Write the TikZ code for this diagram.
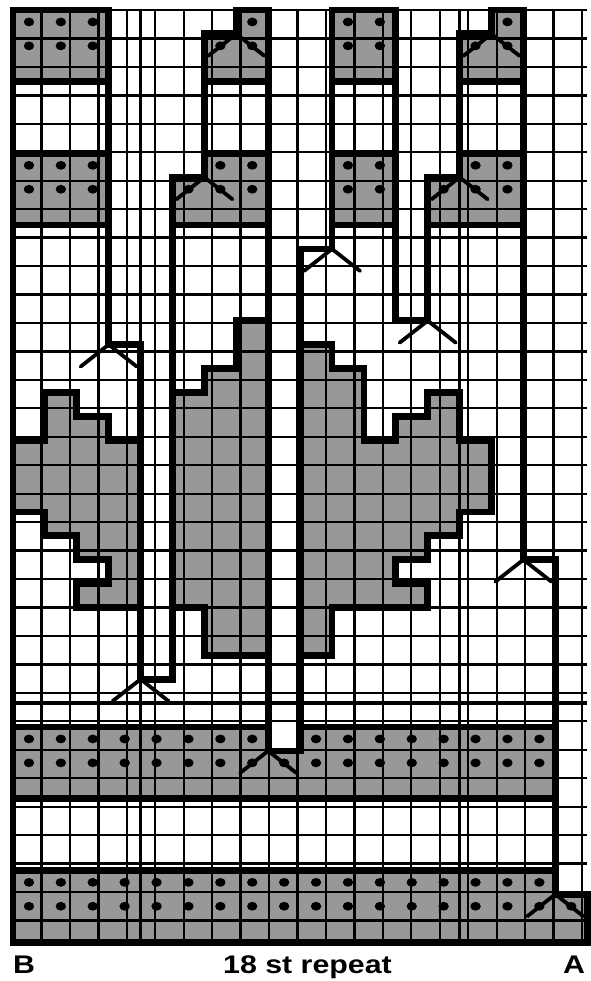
\documentclass[tikz,border=0pt]{standalone}
\usepackage{fontspec}
\setmainfont{Liberation Sans}
\definecolor{cellgray}{RGB}{152,152,152}
\tikzset{
  thingrid/.style={line width=2.3pt, black},
  midline/.style={line width=3.3pt, black},
  thickline/.style={line width=6.8pt, black, line join=miter, line cap=rect},
  vleg/.style={line width=3.8pt, black, line cap=round, line join=round},
  lbl/.style={inner sep=0pt, font=\fontsize{25.5}{30}\selectfont\bfseries},
}
\newcommand\dcell[2]{\fill[black] (#1+0.5,#2+0.5) ellipse [x radius=5.2pt, y radius=4.4pt];}
\newcommand\vmark[2]{\draw[vleg] (#1-0.88,#2+0.92) -- (#1,#2) -- (#1+0.88,#2+0.92);}
\begin{document}
\begin{tikzpicture}[x=1pt,y=-1pt]
\useasboundingbox (0,0) rectangle (590,981);
\fill[white] (0,0) rectangle (590,981);
\begin{scope}[shift={(13,10)}, x=31.9pt, y=-23.9pt]
  % gray cells
  \foreach \a/\b/\c/\d in {
    0/0/3/3, 0/6/3/9,
    7/0/8/1, 6/1/8/3, 6/6/8/7, 5/7/8/9,
    10/0/12/3, 10/6/12/9,
    15/0/16/1, 14/1/16/3, 14/6/16/7, 13/7/16/9,
    1/16/2/18, 2/17/3/18, 0/18/4/21, 1/21/4/22, 2/22/4/23, 3/23/4/24, 2/24/4/25,
    7/13/8/15, 6/15/8/16, 5/16/8/25, 6/25/8/27,
    9/14/10/27, 10/15/11/25, 11/18/12/25, 12/17/13/23, 12/24/13/25, 13/16/14/22, 14/18/15/21,
    0/30/8/31, 9/30/17/31, 0/31/17/33,
    0/36/17/37, 0/37/18/39}
    {\fill[cellgray] (\a,\b) rectangle (\c,\d);}
  % thin grid
  \draw[thingrid] (0,0) grid (18,39);
  % medium marker lines
  \draw[midline] (4,0) -- (4,39) (14,0) -- (14,39) (0,29) -- (18,29);
  % dots
  \foreach \r in {0,1,6,7} {\foreach \c in {0,1,2,10,11} {\dcell{\c}{\r}}}
  \foreach \c/\r in {7/0, 6/1, 7/1, 6/6, 7/6, 5/7, 6/7, 7/7,
                     15/0, 14/1, 15/1, 14/6, 15/6, 13/7, 14/7, 15/7} {\dcell{\c}{\r}}
  \foreach \c in {0,...,7,9,10,...,16} {\dcell{\c}{30}}
  \foreach \c in {0,...,16} {\dcell{\c}{31}\dcell{\c}{36}}
  \foreach \c in {0,...,17} {\dcell{\c}{37}}
  % main thick outline
  \draw[thickline] (0,0) -- (3,0) -- (3,14) -- (4,14) -- (4,28) -- (5,28) -- (5,7) -- (6,7)
    -- (6,1) -- (7,1) -- (7,0) -- (8,0) -- (8,31) -- (9,31) -- (9,10) -- (10,10) -- (10,0)
    -- (12,0) -- (12,13) -- (13,13) -- (13,7) -- (14,7) -- (14,1) -- (15,1) -- (15,0)
    -- (16,0) -- (16,23) -- (17,23) -- (17,37) -- (18,37) -- (18,39) -- (0,39) -- cycle;
  % block and band borders
  \draw[thickline] (0,3) -- (3,3) (0,6) -- (3,6) (0,9) -- (3,9)
    (6,3) -- (8,3) (6,6) -- (8,6) (5,9) -- (8,9)
    (10,3) -- (12,3) (10,6) -- (12,6) (10,9) -- (12,9)
    (14,3) -- (16,3) (14,6) -- (16,6) (13,9) -- (16,9)
    (0,30) -- (8,30) (9,30) -- (17,30) (0,33) -- (17,33) (0,36) -- (17,36);
  % leaf outlines
  \draw[thickline] (0,18) -- (1,18) -- (1,16) -- (2,16) -- (2,17) -- (3,17) -- (3,18) -- (4,18);
  \draw[thickline] (4,25) -- (2,25) -- (2,24) -- (3,24) -- (3,23) -- (2,23) -- (2,22) -- (1,22) -- (1,21) -- (0,21);
  \draw[thickline] (8,13) -- (7,13) -- (7,15) -- (6,15) -- (6,16) -- (5,16);
  \draw[thickline] (5,25) -- (6,25) -- (6,27) -- (8,27);
  \draw[thickline] (9,14) -- (10,14) -- (10,15) -- (11,15) -- (11,18) -- (12,18) -- (12,17)
    -- (13,17) -- (13,16) -- (14,16) -- (14,18) -- (15,18) -- (15,21) -- (14,21) -- (14,22)
    -- (13,22) -- (13,23) -- (12,23) -- (12,24) -- (13,24) -- (13,25) -- (10,25) -- (10,27) -- (9,27);
  % elongated stitch marks
  \foreach \c/\r in {3/14, 4/28, 6/7, 7/1, 8/31, 10/10, 13/13, 14/7, 15/1, 16/23, 17/37} {\vmark{\c}{\r}}
\end{scope}
\node[lbl, anchor=base west] (labB) at (13,973) {\scalebox{1.19}[1]{B}};
\node[lbl, anchor=base] (labR) at (307.5,973) {\scalebox{1.19}[1]{18 st repeat}};
\node[lbl, anchor=base] (labA) at (574,973) {\scalebox{1.19}[1]{A}};
\end{tikzpicture}
\end{document}
